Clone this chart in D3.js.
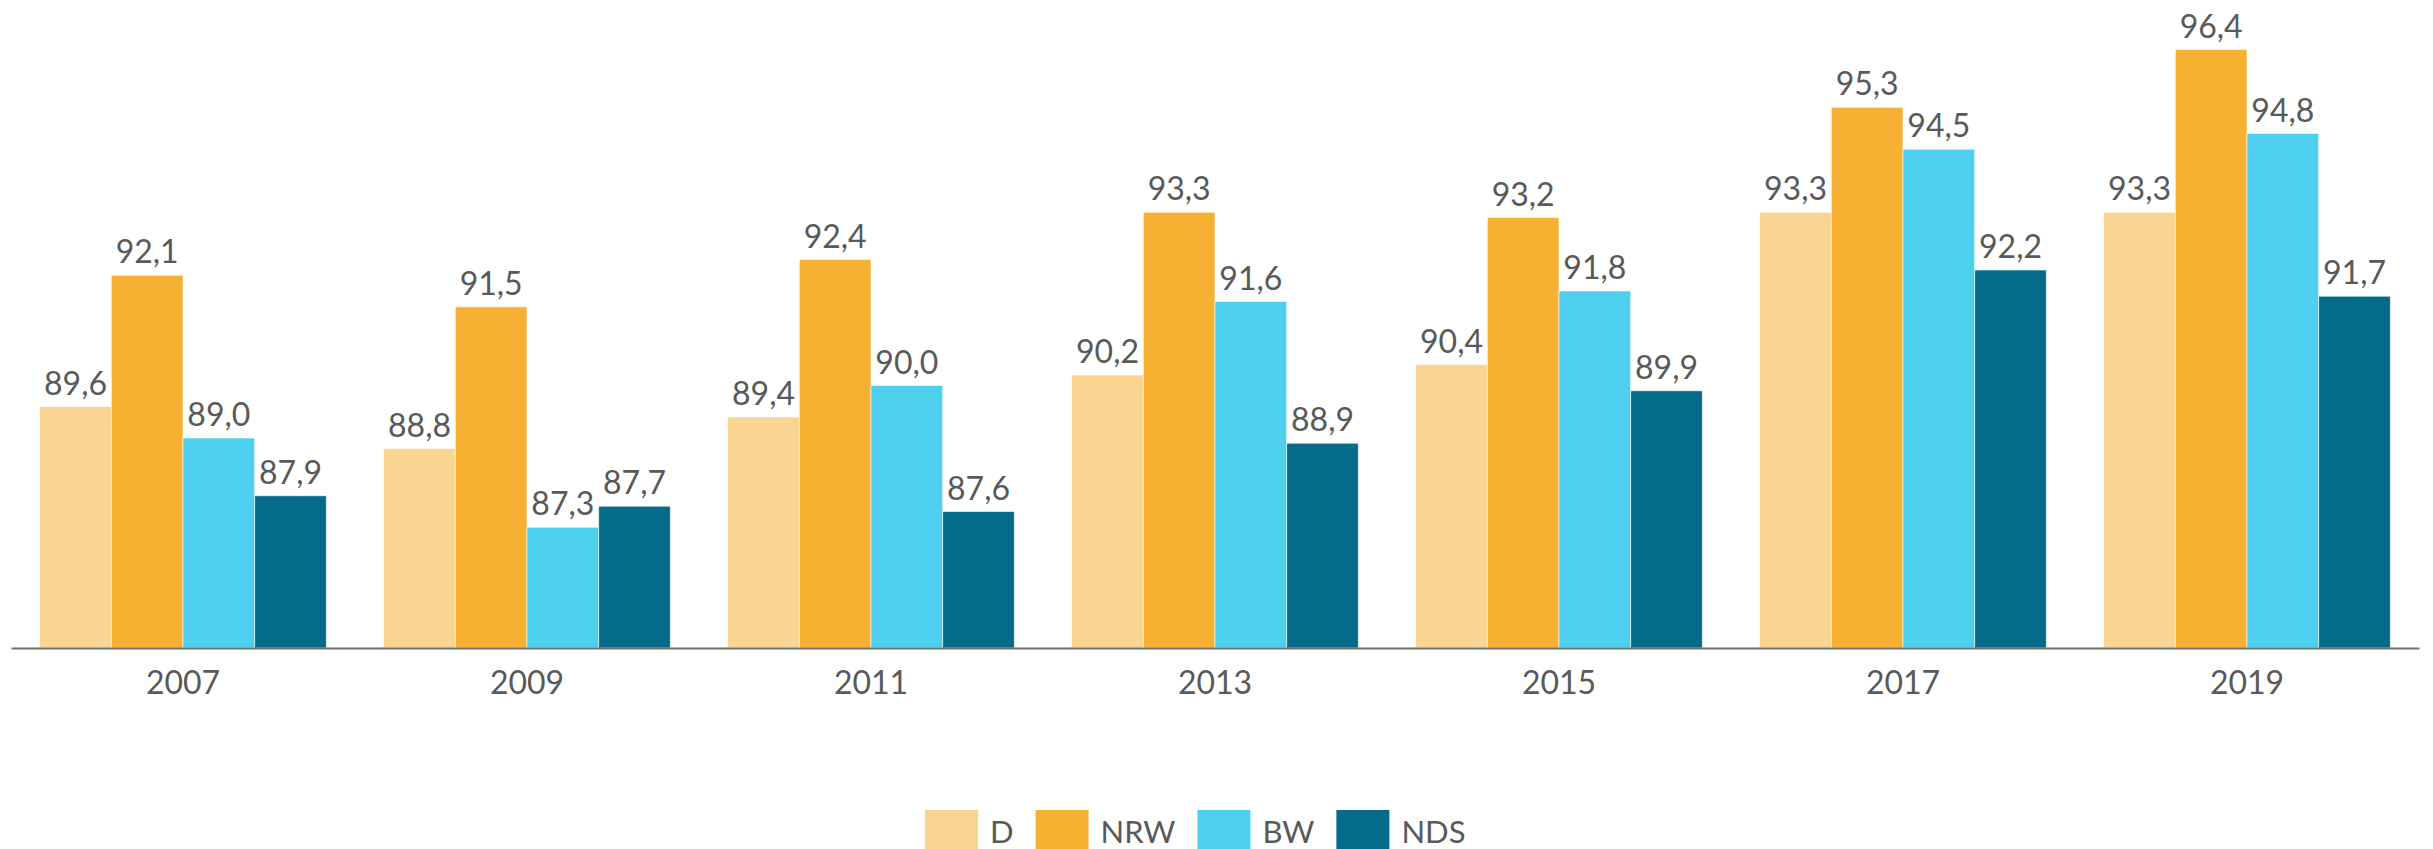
<!DOCTYPE html>
<html>
<head>
<meta charset="utf-8">
<script src="https://cdn.jsdelivr.net/npm/d3@7"></script>
<style>
	body { margin: 0; background: #fff; }
	svg text { font-family: Lato, "Open Sans", sans-serif; fill: #595959; }
</style>
</head>
<body>
<svg class="chart"></svg>
<script>
// data
var years = ["2007", "2009", "2011", "2013", "2015", "2017", "2019"];
var seriesNames = ["D", "NRW", "BW", "NDS"];
var valuesD = [89.6, 88.8, 89.4, 90.2, 90.4, 93.3, 93.3];
var valuesNRW = [92.1, 91.5, 92.4, 93.3, 93.2, 95.3, 96.4];
var valuesBW = [89.0, 87.3, 90.0, 91.6, 91.8, 94.5, 94.8];
var valuesNDS = [87.9, 87.7, 87.6, 88.9, 89.9, 92.2, 91.7];
var colors = ["#fad491", "#f6b133", "#4ecfee", "#046b88"];

var svgWidth = 2433,
	svgHeight = 849;

var chart = d3.select( ".chart" )
	.attr( "width", svgWidth )
	.attr( "height", svgHeight );

var plotLeft = 11,
	plotRight = 2419,
	plotTop = 18,
	plotBottom = 648;

var allValues = [valuesD, valuesNRW, valuesBW, valuesNDS];

var rows = years.map( function(y, i) {
	return {
		year : y,
		bars : seriesNames.map( function(s, j) {
			return { name : s, value : allValues[j][i], color : colors[j] };
		} )
	};
} );

var x0 = d3.scaleBand()
	.domain( years )
	.range( [plotLeft, plotRight] )
	.paddingInner( 1/6 )
	.paddingOuter( 1/12 );

var x1 = d3.scaleBand()
	.domain( seriesNames )
	.range( [0, x0.bandwidth()] );

var y = d3.scaleLinear()
	.domain( [85, 97] )
	.range( [plotBottom, plotTop] );

var deFormat = d3.formatLocale( { decimal : ",", thousands : ".", grouping : [3], currency : ["", " €"] } ).format( ".1f" );

var groups = chart.selectAll( ".group" )
	.data( rows )
	.enter()
	.append( "g" )
	.classed( "group", true )
	.attr( "transform", function(d) { return "translate(" + x0( d.year ) + ",0)"; } );

groups.selectAll( "rect" )
	.data( function(d) { return d.bars; } )
	.enter()
	.append( "rect" )
	.attr( "x", function(d) { return x1( d.name ); } )
	.attr( "y", function(d) { return y( d.value ); } )
	.attr( "width", x1.bandwidth() )
	.attr( "height", function(d) { return plotBottom - y( d.value ); } )
	.attr( "fill", function(d) { return d.color; } )
	.attr( "stroke", "#fff" )
	.attr( "stroke-opacity", 0.6 )
	.attr( "stroke-width", 1 );

groups.selectAll( ".val" )
	.data( function(d) { return d.bars; } )
	.enter()
	.append( "text" )
	.classed( "val", true )
	.attr( "x", function(d) { return x1( d.name ) + x1.bandwidth() / 2; } )
	.attr( "y", function(d) { return y( d.value ) - 12; } )
	.attr( "text-anchor", "middle" )
	.style( "font-size", "32px" )
	.text( function(d) { return deFormat( d.value ); } );

// x axis: only the line and the year labels
var xAxis = chart.append( "g" )
	.attr( "transform", "translate(0," + plotBottom + ")" )
	.call( d3.axisBottom( x0 ).tickSize( 0 ).tickPadding( 46 ) );

xAxis.select( ".domain" )
	.attr( "stroke", "#707070" )
	.attr( "stroke-width", 2 );

xAxis.selectAll( "text" )
	.style( "font-size", "32px" )
	.style( "font-family", "Lato, 'Open Sans', sans-serif" )
	.attr( "fill", "#595959" )
	.attr( "dy", "0" );

// legend
var legend = chart.append( "g" ).attr( "transform", "translate(925,810)" );
var lx = 0;
seriesNames.forEach( function(s, i) {
	legend.append( "rect" )
		.attr( "x", lx )
		.attr( "y", 0 )
		.attr( "width", 53 )
		.attr( "height", 53 )
		.attr( "fill", colors[i] );
	var t = legend.append( "text" )
		.attr( "x", lx + 65 )
		.attr( "y", 33 )
		.style( "font-size", "31px" )
		.text( s );
	lx += 65 + t.node().getComputedTextLength() + 22;
} );
</script>
</body>
</html>
